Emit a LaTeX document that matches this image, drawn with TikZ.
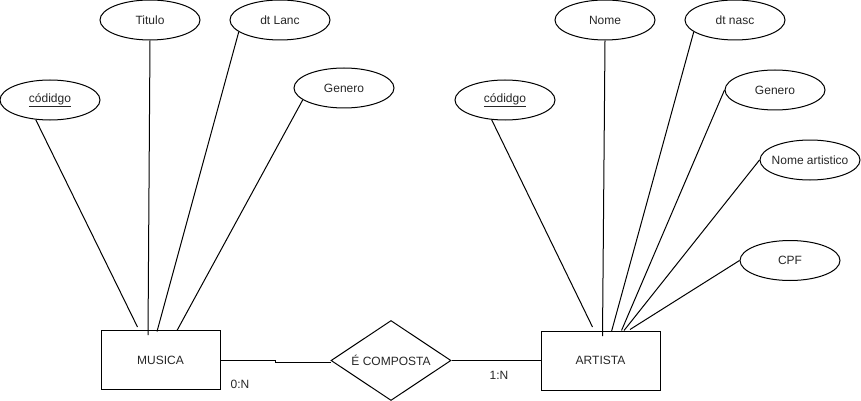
\documentclass[tikz,border=0pt]{standalone}
\usepackage{fontspec}
\setmainfont{Liberation Sans}
\usetikzlibrary{shapes.geometric}
\begin{document}
\begin{tikzpicture}[x=1pt,y=-1pt,
  attr/.style={draw, ellipse, line width=1pt, minimum width=100pt, minimum height=40pt, inner sep=0pt, font=\fontsize{12pt}{14pt}\selectfont, text=black!85},
  ent/.style={draw, rectangle, line width=1pt, minimum width=119pt, minimum height=59pt, inner sep=0pt, font=\fontsize{12pt}{14pt}\selectfont, text=black!85},
  rel/.style={draw, diamond, aspect=1.5, line width=1pt, minimum width=120pt, minimum height=80pt, inner sep=0pt, font=\fontsize{12pt}{14pt}\selectfont, text=black!85},
  lbl/.style={font=\fontsize{12pt}{14pt}\selectfont, text=black!85, inner sep=0pt},
  conn/.style={line width=1pt}]
\useasboundingbox (0,0) rectangle (861,401);
% entities
\node[ent] (musica) at (160.5,360) {MUSICA};
\node[ent] (artista) at (600.5,360.5) {ARTISTA};
\node[rel] (comp) at (391,360.5) {É COMPOSTA};
% left attributes
\node[attr] (cod1) at (50,100) {\underline{códidgo}};
\node[attr] (tit) at (150,20) {Titulo};
\node[attr] (dtl) at (280,20) {dt Lanc};
\node[attr] (gen1) at (344,88) {Genero};
% right attributes
\node[attr] (cod2) at (505,100) {\underline{códidgo}};
\node[attr] (nome) at (605,20) {Nome};
\node[attr] (dtn) at (735,20) {dt nasc};
\node[attr] (gen2) at (775,90) {Genero};
\node[attr, inner xsep=-14pt] (nart) at (810,160) {Nome artistico};
\node[attr] (cpf) at (790,260.5) {CPF};
% connector end points inside entities
\coordinate (m1) at (137.5,327);
\coordinate (m2) at (148,335);
\coordinate (m3) at (157,331.5);
\coordinate (m4) at (177,330.5);
\coordinate (a1) at (592.5,327);
\coordinate (a2) at (602.5,336);
\coordinate (a3) at (611.5,331.5);
\coordinate (a4) at (621.5,330.5);
\coordinate (a5) at (624,330.5);
\coordinate (a6) at (630,329.5);
% attribute connectors
\draw[conn] (cod1.234) -- (m1);
\draw[conn] (tit.south) -- (m2);
\draw[conn] (dtl.196) -- (m3);
\draw[conn] (gen1.196) -- (m4);
\draw[conn] (cod2.236) -- (a1);
\draw[conn] (nome.south) -- (a2);
\draw[conn] (dtn.196) -- (a3);
\draw[conn] (gen2.west) -- (a4);
\draw[conn] (nart.west) -- (a5);
\draw[conn] (cpf.west) -- (a6);
% relationship connectors
\draw[conn] (musica.east) -- (275,360) -- (275,362.5) -- (comp.west |- 0,362.5);
\draw[conn] (comp.east) -- (artista.west);
% cardinalities
\node[lbl] (c1) at (240,384) {0:N};
\node[lbl] (c2) at (499,375) {1:N};
\end{tikzpicture}
\end{document}
